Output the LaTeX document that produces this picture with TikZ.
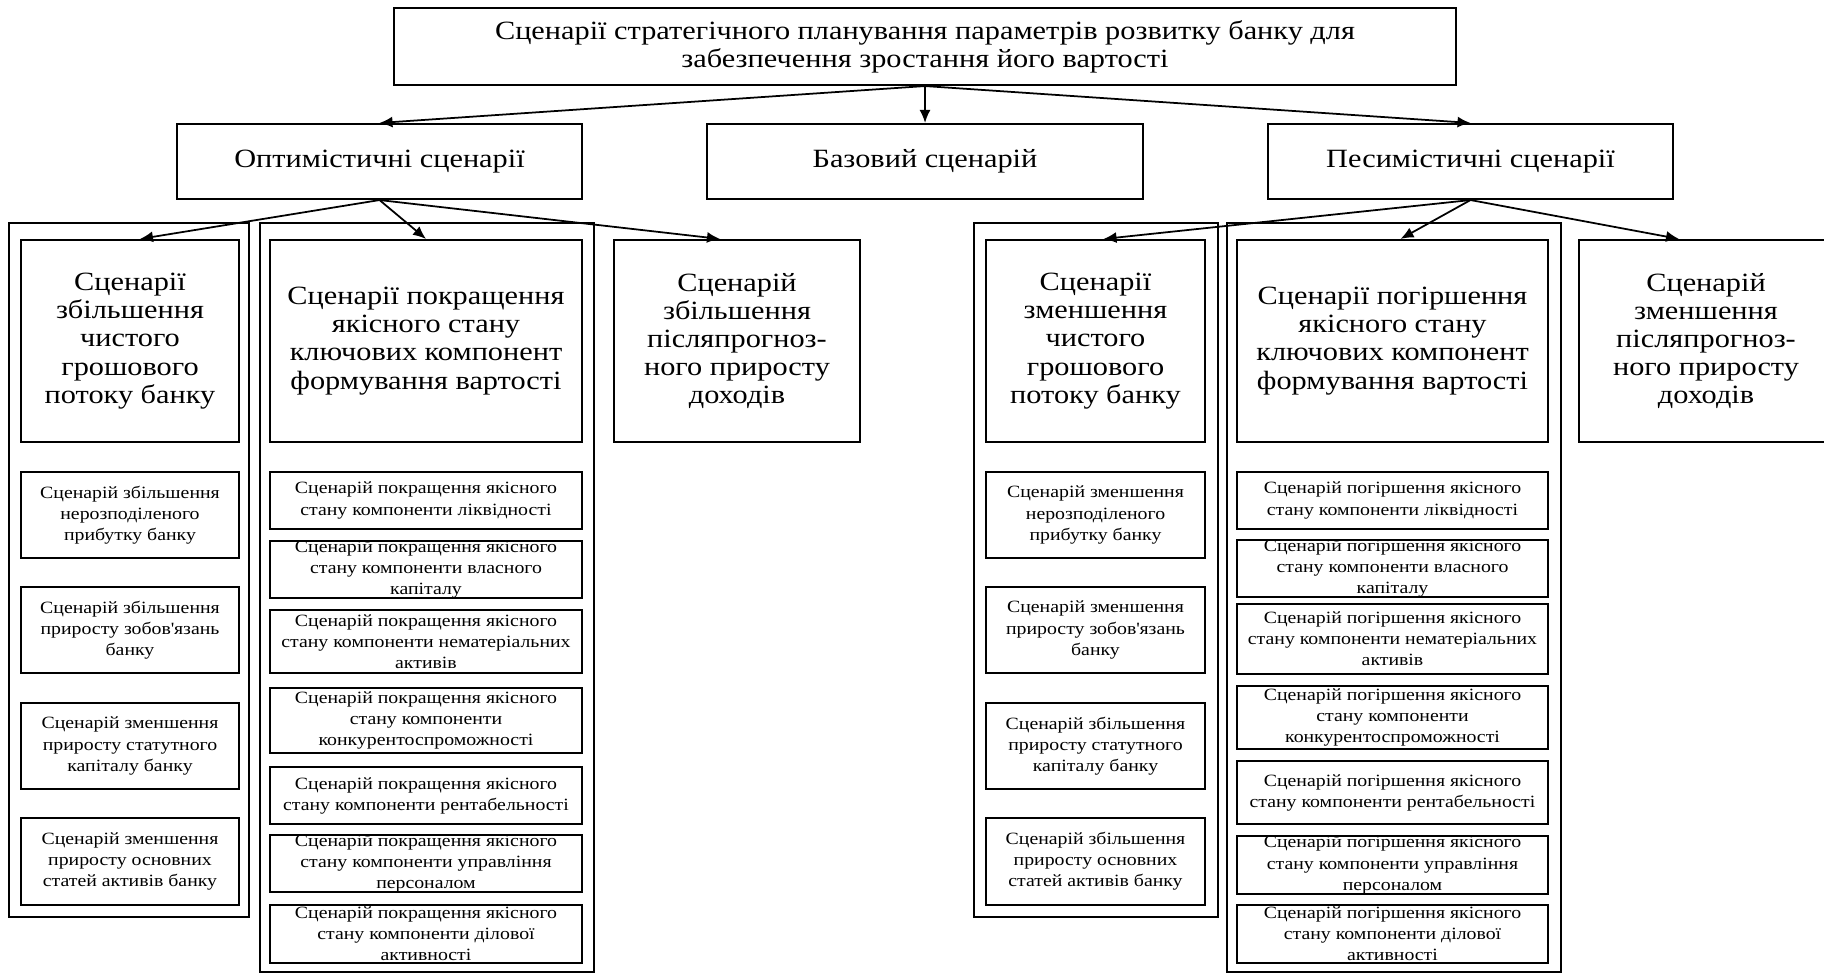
\documentclass[tikz,border=0pt]{standalone}
\usepackage{fontspec}
\setmainfont[FakeStretch=1.15]{Liberation Serif}
\usetikzlibrary{arrows.meta}

\begin{document}
\begin{tikzpicture}[>={Latex[length=1.3mm,width=1.1mm]}, x=0.1mm, y=-0.1mm,
    box/.style={draw, line width=0.6pt, inner sep=0pt, align=center},
    bigtext/.style={font=\fontsize{7.5pt}{8pt}\selectfont},
    smalltext/.style={font=\fontsize{4.9pt}{6pt}\selectfont},
    frame/.style={draw, line width=0.6pt, inner sep=0pt}]
  \useasboundingbox (0,0) rectangle (1824,975);

  % top level
  \node[box, bigtext, minimum width=106.2mm, minimum height=7.7mm] (goal) at (925,46.5)
    {Сценарії стратегічного планування параметрів розвитку банку для\\забезпечення зростання його вартості};
  \node[box, bigtext, minimum width=40.5mm, minimum height=7.5mm] (opt) at (379.5,161.5) {Оптимістичні сценарії};
  \node[box, bigtext, minimum width=43.6mm, minimum height=7.5mm] (base) at (925,161.5) {Базовий сценарій};
  \node[box, bigtext, minimum width=40.5mm, minimum height=7.5mm] (pes) at (1470.5,161.5) {Песимістичні сценарії};

  % frames
  \node[frame, minimum width=24mm, minimum height=69.4mm] (optleft) at (129,570) {};
  \node[frame, minimum width=33.4mm, minimum height=74.9mm] (optmid) at (427,597.5) {};
  \node[frame, minimum width=24.4mm, minimum height=69.4mm] (pesleft) at (1096,570) {};
  \node[frame, minimum width=33.4mm, minimum height=74.9mm] (pesmid) at (1394,597.5) {};

  % optimistic branch
  \node[box, bigtext, minimum width=21.8mm, minimum height=20.2mm] (optcash) at (130,341)
    {Сценарії\\збільшення\\чистого\\грошового\\потоку банку};
  \node[box, bigtext, minimum width=31.2mm, minimum height=20.2mm] (optquality) at (426,341)
    {Сценарії покращення\\якісного стану\\ключових компонент\\формування вартості};
  \node[box, bigtext, minimum width=24.6mm, minimum height=20.2mm] (optincome) at (737,341)
    {Сценарій\\збільшення\\післяпрогноз-\\ного приросту\\доходів};

  \node[box, smalltext, minimum width=21.8mm, minimum height=8.6mm] (optprofit) at (130,515)
    {Сценарій збільшення\\нерозподіленого\\прибутку банку};
  \node[box, smalltext, minimum width=21.8mm, minimum height=8.6mm] (optliab) at (130,630)
    {Сценарій збільшення\\приросту зобов\textquotesingle язань\\банку};
  \node[box, smalltext, minimum width=21.8mm, minimum height=8.6mm] (optcapital) at (130,746)
    {Сценарій зменшення\\приросту статутного\\капіталу банку};
  \node[box, smalltext, minimum width=21.8mm, minimum height=8.7mm] (optassets) at (130,861.5)
    {Сценарій зменшення\\приросту основних\\статей активів банку};

  \node[box, smalltext, minimum width=31.2mm, minimum height=5.7mm] (optliq) at (426,500.5)
    {Сценарій покращення якісного\\стану компоненти ліквідності};
  \node[box, smalltext, minimum width=31.2mm, minimum height=5.7mm] (optequity) at (426,569.5)
    {Сценарій покращення якісного\\стану компоненти власного\\капіталу};
  \node[box, smalltext, minimum width=31.2mm, minimum height=6.3mm] (optintang) at (426,641.5)
    {Сценарій покращення якісного\\стану компоненти нематеріальних\\активів};
  \node[box, smalltext, minimum width=31.2mm, minimum height=6.5mm] (optcomp) at (426,720.5)
    {Сценарій покращення якісного\\стану компоненти\\конкурентоспроможності};
  \node[box, smalltext, minimum width=31.2mm, minimum height=5.7mm] (optrent) at (426,795.5)
    {Сценарій покращення якісного\\стану компоненти рентабельності};
  \node[box, smalltext, minimum width=31.2mm, minimum height=5.5mm] (optstaff) at (426,863.5)
    {Сценарій покращення якісного\\стану компоненти управління\\персоналом};
  \node[box, smalltext, minimum width=31.2mm, minimum height=5.8mm] (optbusiness) at (426,934)
    {Сценарій покращення якісного\\стану компоненти ділової\\активності};

  % pessimistic branch
  \node[box, bigtext, minimum width=21.9mm, minimum height=20.2mm] (pescash) at (1095.5,341)
    {Сценарії\\зменшення\\чистого\\грошового\\потоку банку};
  \node[box, bigtext, minimum width=31.1mm, minimum height=20.2mm] (pesquality) at (1392.5,341)
    {Сценарії погіршення\\якісного стану\\ключових компонент\\формування вартості};
  \node[box, bigtext, minimum width=25.4mm, minimum height=20.2mm] (pesincome) at (1706,341)
    {Сценарій\\зменшення\\післяпрогноз-\\ного приросту\\доходів};

  \node[box, smalltext, minimum width=21.9mm, minimum height=8.6mm] (pesprofit) at (1095.5,515)
    {Сценарій зменшення\\нерозподіленого\\прибутку банку};
  \node[box, smalltext, minimum width=21.9mm, minimum height=8.6mm] (pesliab) at (1095.5,630)
    {Сценарій зменшення\\приросту зобов\textquotesingle язань\\банку};
  \node[box, smalltext, minimum width=21.9mm, minimum height=8.6mm] (pescapital) at (1095.5,746)
    {Сценарій збільшення\\приросту статутного\\капіталу банку};
  \node[box, smalltext, minimum width=21.9mm, minimum height=8.7mm] (pesassets) at (1095.5,861.5)
    {Сценарій збільшення\\приросту основних\\статей активів банку};

  \node[box, smalltext, minimum width=31.1mm, minimum height=5.7mm] (pesliq) at (1392.5,500.5)
    {Сценарій погіршення якісного\\стану компоненти ліквідності};
  \node[box, smalltext, minimum width=31.1mm, minimum height=5.5mm] (pesequity) at (1392.5,568.5)
    {Сценарій погіршення якісного\\стану компоненти власного\\капіталу};
  \node[box, smalltext, minimum width=31.1mm, minimum height=7mm] (pesintang) at (1392.5,639)
    {Сценарій погіршення якісного\\стану компоненти нематеріальних\\активів};
  \node[box, smalltext, minimum width=31.1mm, minimum height=6.3mm] (pescomp) at (1392.5,717.5)
    {Сценарій погіршення якісного\\стану компоненти\\конкурентоспроможності};
  \node[box, smalltext, minimum width=31.1mm, minimum height=6.3mm] (pesrent) at (1392.5,792.5)
    {Сценарій погіршення якісного\\стану компоненти рентабельності};
  \node[box, smalltext, minimum width=31.1mm, minimum height=5.8mm] (pesstaff) at (1392.5,865)
    {Сценарій погіршення якісного\\стану компоненти управління\\персоналом};
  \node[box, smalltext, minimum width=31.1mm, minimum height=5.8mm] (pesbusiness) at (1392.5,934)
    {Сценарій погіршення якісного\\стану компоненти ділової\\активності};

  % arrows
  \draw[->, line width=0.5pt] (goal.south) -- (opt.north);
  \draw[->, line width=0.5pt] (goal.south) -- (base.north);
  \draw[->, line width=0.5pt] (goal.south) -- (pes.north);
  \draw[->, line width=0.5pt] (opt.south) -- ([xshift=1mm]optcash.north);
  \draw[->, line width=0.5pt] (opt.south) -- (optquality.north);
  \draw[->, line width=0.5pt] (opt.south) -- ([xshift=-1.7mm]optincome.north);
  \draw[->, line width=0.5pt] (pes.south) -- ([xshift=0.8mm]pescash.north);
  \draw[->, line width=0.5pt] (pes.south) -- ([xshift=0.8mm]pesquality.north);
  \draw[->, line width=0.5pt] (pes.south) -- ([xshift=-2.7mm]pesincome.north);

\end{tikzpicture}
\end{document}
